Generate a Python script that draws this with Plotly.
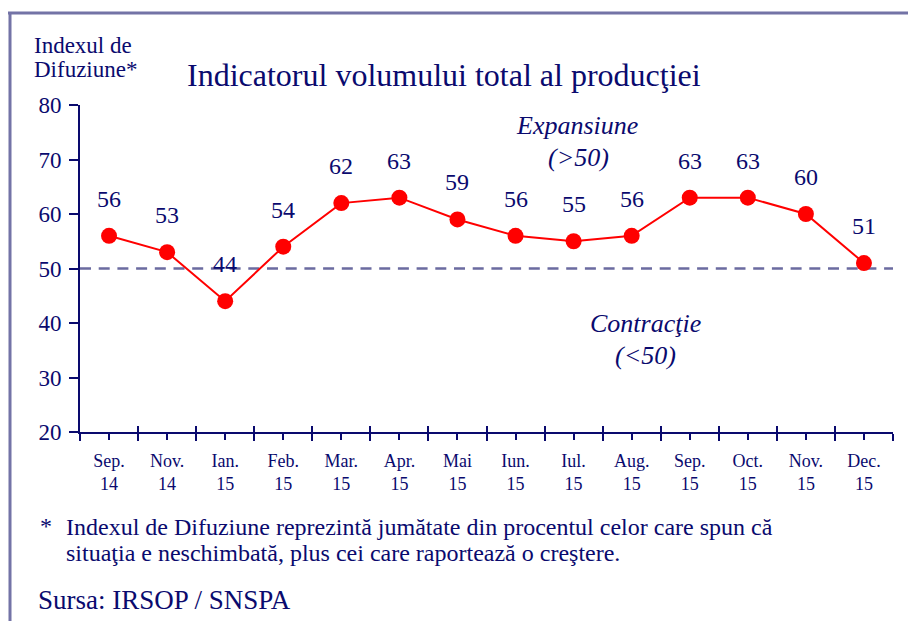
import plotly.graph_objects as go

months = ["Sep.", "Nov.", "Ian.", "Feb.", "Mar.", "Apr.", "Mai", "Iun.", "Iul.", "Aug.",
          "Sep.", "Oct.", "Nov.", "Dec."]
years = ["14", "14", "15", "15", "15", "15", "15", "15", "15", "15", "15", "15", "15", "15"]
values = [56, 53, 44, 54, 62, 63, 59, 56, 55, 56, 63, 63, 60, 51]
threshold = 50
y_ticks = [20, 30, 40, 50, 60, 70, 80]

W, H = 908, 621
L, R, T, B = 80, 15, 105, 189
PW = W - L - R
PH = H - T - B

def px(x):
    return (x - L) / PW

def py(y):
    return (H - B - y) / PH

NAVY = "#0a0a6e"
FONT = "Liberation Serif, Times New Roman, serif"

n = len(values)
xs = list(range(n))
bounds = [i - 0.5 for i in range(n + 1)]
tick_text = [f"{m}<br>{y}" for m, y in zip(months, years)]

fig = go.Figure()
fig.add_trace(go.Scatter(
    x=xs, y=values, mode="lines+markers",
    line=dict(color="#ff0000", width=2),
    marker=dict(color="#ff0000", size=16),
    cliponaxis=False, showlegend=False,
))
fig.add_trace(go.Scatter(x=[bounds[0]], y=[threshold], xaxis="x2", mode="markers",
                         marker=dict(opacity=0), showlegend=False, hoverinfo="skip"))

# value labels
for xv, v in zip(xs, values):
    fig.add_annotation(x=xv, y=v, text=str(v), showarrow=False, yshift=37,
                       xanchor="center", yanchor="middle",
                       font=dict(family=FONT, size=24, color=NAVY))

fig.add_shape(type="line", xref="x", yref="y", x0=bounds[0], x1=bounds[-1],
              y0=threshold, y1=threshold,
              line=dict(color="#6b6ba0", width=2.5, dash="11px,7.7px"), layer="below")

# frame
fig.add_shape(type="line", xref="paper", yref="paper", x0=px(8), x1=px(908), y0=py(13), y1=py(13),
              line=dict(color="#7373a6", width=3))
fig.add_shape(type="line", xref="paper", yref="paper", x0=px(10), x1=px(10), y0=py(12), y1=py(621),
              line=dict(color="#7373a6", width=3))

def ann(text, x, y, size, italic=False, xanchor="center"):
    fig.add_annotation(text=text, xref="paper", yref="paper", x=px(x), y=py(y),
                       xanchor=xanchor, yanchor="middle", showarrow=False,
                       font=dict(family=FONT, size=size, color=NAVY,
                                 style="italic" if italic else "normal"))

ann("Indicatorul volumului total al producţiei", 444, 75, 32)
ann("Indexul de", 32, 46, 23, xanchor="left")
ann("Difuziune*", 32, 70, 23, xanchor="left")
ann("Expansiune", 577, 125, 26, italic=True)
ann("(>50)", 578, 157, 26, italic=True)
ann("Contracţie", 645, 323, 26, italic=True)
ann("(<50)", 645, 355, 26, italic=True)
ann("*", 46, 526, 24)
ann("Indexul de Difuziune reprezintă jumătate din procentul celor care spun că", 64, 527, 24, xanchor="left")
ann("situaţia e neschimbată, plus cei care raportează o creştere.", 64, 553, 24, xanchor="left")
ann("Sursa: IRSOP / SNSPA", 36, 600, 27, xanchor="left")

fig.update_layout(
    width=W, height=H, margin=dict(l=L, r=R, t=T, b=B),
    paper_bgcolor="white", plot_bgcolor="white",
    font=dict(family=FONT, color=NAVY),
    xaxis=dict(range=[bounds[0], bounds[-1]], tickmode="array", tickvals=xs, ticktext=tick_text,
               ticks="outside", ticklen=6, tickwidth=2, tickcolor=NAVY, ticklabelstandoff=5,
               showline=True, linecolor=NAVY, linewidth=2, showgrid=False, zeroline=False,
               tickfont=dict(family=FONT, size=18, color=NAVY),
               minor=dict(tickmode="array", tickvals=bounds, ticks="outside", ticklen=7,
                          tickwidth=2, tickcolor=NAVY, showgrid=False)),
    xaxis2=dict(range=[bounds[0], bounds[-1]], overlaying="x", anchor="y", side="bottom",
                tickmode="array", tickvals=bounds, ticks="inside", ticklen=6, tickwidth=2,
                tickcolor=NAVY, showticklabels=False, showgrid=False, zeroline=False,
                showline=False),
    yaxis=dict(range=[20, 80], tickmode="array", tickvals=y_ticks, ticks="outside",
               ticklen=9, tickwidth=2, tickcolor=NAVY, showline=True, linecolor=NAVY,
               linewidth=2, showgrid=False, zeroline=False, ticklabelstandoff=3,
               tickfont=dict(family=FONT, size=23, color=NAVY)),
)

fig.write_html("out.html", config={"displayModeBar": False},
               post_script="document.body.style.margin='0';")
